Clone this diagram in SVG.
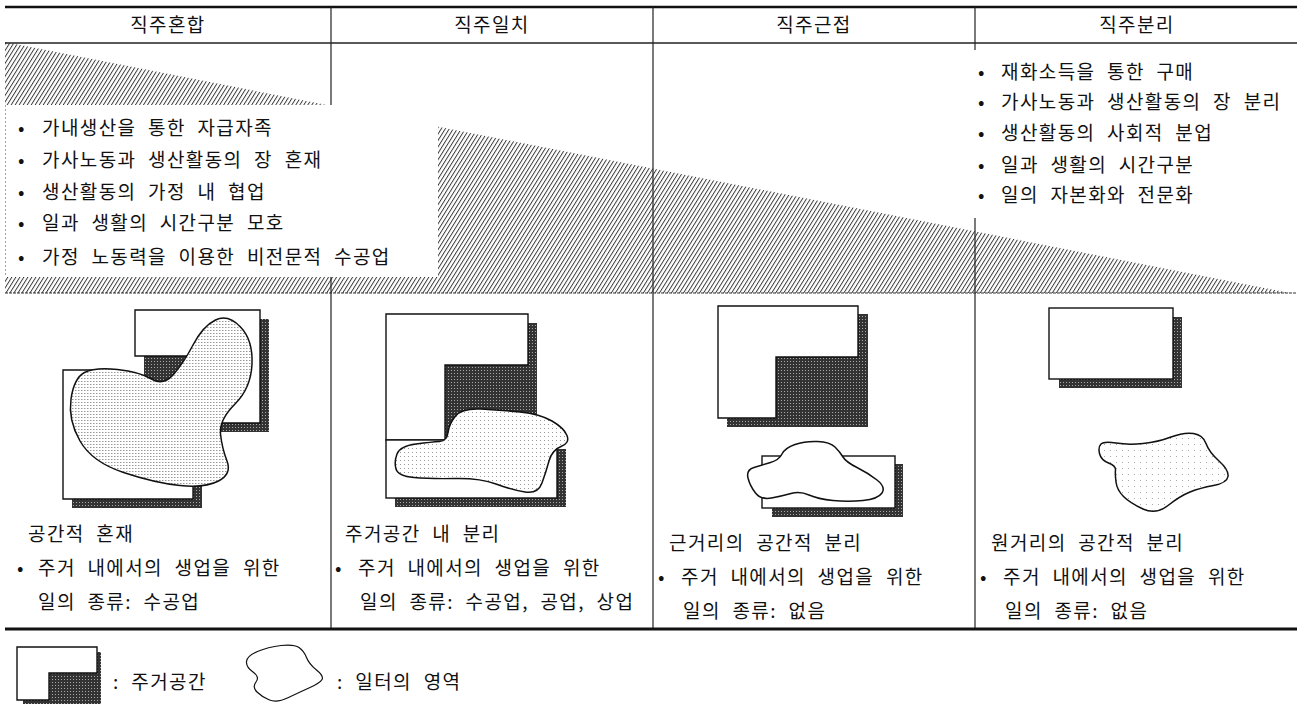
<svg xmlns="http://www.w3.org/2000/svg" width="1300" height="708" viewBox="0 0 1300 708">
<style>
.t{font-family:"Noto Sans CJK KR","Noto Sans",sans-serif;font-size:19px;letter-spacing:1.4px;word-spacing:6px;fill:#111}
.h{text-anchor:middle}
.ln{stroke:#222;stroke-width:1.2;fill:none}
.wb{fill:#fff;stroke:#111;stroke-width:1.4}
.sh{fill:url(#dk)}
.blob{stroke:#111;stroke-width:1.5}
</style>
<defs>
<pattern id="hatch" width="3.4" height="10" patternUnits="userSpaceOnUse" patternTransform="rotate(32)">
<line x1="0.5" y1="0" x2="0.5" y2="10" stroke="#2a2a2a" stroke-width="0.9"/>
</pattern>
<pattern id="dk" width="3" height="3" patternUnits="userSpaceOnUse">
<rect width="3" height="3" fill="#333"/><rect x="1" y="1" width="1" height="1" fill="#a8a8a8"/>
</pattern>
<pattern id="lt1" width="3" height="3" patternUnits="userSpaceOnUse">
<rect width="3" height="3" fill="#fff"/><rect width="1" height="1" fill="#999"/><rect x="1" y="0" width="1" height="1" fill="#ccc"/>
</pattern>
<pattern id="lt2" width="4" height="4" patternUnits="userSpaceOnUse">
<rect width="4" height="4" fill="#fff"/><rect width="1" height="1" fill="#999"/>
</pattern>
<pattern id="lt3" width="6" height="6" patternUnits="userSpaceOnUse">
<rect width="6" height="6" fill="#fff"/><rect width="1" height="1" fill="#aaa"/>
</pattern>
</defs>
<rect width="1300" height="708" fill="#fff"/>

<g id="hatch-band">
<polygon points="5,42 1290,293 5,293" fill="url(#hatch)"/>
<rect x="5" y="105" width="433" height="172" fill="#fff"/>
<rect x="960" y="50" width="337" height="168" fill="#fff"/>
<line x1="5" y1="293" x2="1297" y2="293" stroke="#333" stroke-width="1.2" stroke-dasharray="3 1"/>
<line x1="5.5" y1="105" x2="5.5" y2="277" stroke="#888" stroke-width="0.8" stroke-dasharray="2 2"/>
</g>

<g id="grid">
<line x1="5" y1="7" x2="1297" y2="7" stroke="#111" stroke-width="2.5"/>
<line x1="5" y1="43" x2="1297" y2="43" stroke="#222" stroke-width="1.3"/>
<line class="ln" x1="331" y1="7" x2="331" y2="105"/>
<line class="ln" x1="331" y1="277" x2="331" y2="629"/>
<line class="ln" x1="653" y1="7" x2="653" y2="629"/>
<line class="ln" x1="975" y1="7" x2="975" y2="50"/>
<line class="ln" x1="975" y1="218" x2="975" y2="629"/>
<line x1="5" y1="629" x2="1297" y2="629" stroke="#111" stroke-width="3"/>
</g>

<g id="connectors"></g>

<g id="header">
<text class="t h" x="168" y="32">직주혼합</text>
<text class="t h" x="492" y="32">직주일치</text>
<text class="t h" x="814" y="32">직주근접</text>
<text class="t h" x="1137" y="32">직주분리</text>
</g>

<g id="list-mixed">
<text class="t" x="18" y="135">•</text><text class="t" x="42" y="135">가내생산을 통한 자급자족</text>
<text class="t" x="18" y="167">•</text><text class="t" x="42" y="167">가사노동과 생산활동의 장 혼재</text>
<text class="t" x="18" y="199">•</text><text class="t" x="42" y="199">생산활동의 가정 내 협업</text>
<text class="t" x="18" y="230">•</text><text class="t" x="42" y="230">일과 생활의 시간구분 모호</text>
<text class="t" x="18" y="264">•</text><text class="t" x="42" y="264">가정 노동력을 이용한 비전문적 수공업</text>
</g>

<g id="list-separated">
<text class="t" x="978" y="79">•</text><text class="t" x="1001" y="79">재화소득을 통한 구매</text>
<text class="t" x="978" y="109">•</text><text class="t" x="1001" y="109">가사노동과 생산활동의 장 분리</text>
<text class="t" x="978" y="140">•</text><text class="t" x="1001" y="140">생산활동의 사회적 분업</text>
<text class="t" x="978" y="172">•</text><text class="t" x="1001" y="172">일과 생활의 시간구분</text>
<text class="t" x="978" y="202">•</text><text class="t" x="1001" y="202">일의 자본화와 전문화</text>
</g>

<g id="fig-mixed">
<rect class="sh" x="144" y="319" width="125" height="113"/>
<rect class="sh" x="72" y="379" width="130" height="129"/>
<polygon class="wb" points="135,310 260,310 260,423 190,423 190,356 135,356"/>
<polygon class="wb" points="63,370 115,370 115,440 193,440 193,499 63,499"/>
<path class="blob" fill="url(#lt1)" d="M84.5,372.5 Q95,367 117.5,369.5 Q140,372 151.5,379 Q163,386 173,375 Q183,364 193,345 Q203,326 215.5,320 Q228,314 240.5,327 Q253,340 252,364 Q251,388 235,404 Q219,420 220.5,434 Q222,448 227,461 Q232,474 218.5,481 Q205,488 180,485.5 Q155,483 123.5,472.5 Q92,462 80,441 Q68,420 71,399 Q74,378 84.5,372.5 Z"/>
<text class="t" x="28" y="541">공간적 혼재</text>
<text class="t" x="17" y="575">•</text><text class="t" x="38" y="575">주거 내에서의 생업을 위한</text>
<text class="t" x="38" y="609">일의 종류: 수공업</text>
</g>

<g id="fig-match">
<polygon class="sh" points="395,323 537,323 537,449 566,449 566,507 395,507"/>
<polygon class="wb" points="386,314 528,314 528,365 445,365 445,440 386,440"/>
<rect class="wb" x="386" y="440" width="171" height="58"/>
<path class="blob" fill="url(#lt2)" d="M396,469 Q394,462 397,454 Q400,446 416,444 Q432,442 439.5,441.5 Q447,441 448,432.5 Q449,424 455.5,416 Q462,408 481,409 Q500,410 520,412 Q540,414 552,421 Q564,428 567,435.5 Q570,443 561,446.5 Q552,450 549,461 Q546,472 542,483 Q538,494 525,492 Q512,490 496,484 Q480,478 455,478.5 Q430,479 414,477.5 Q398,476 396,469 Z"/>
<text class="t" x="345" y="541">주거공간 내 분리</text>
<text class="t" x="335" y="575">•</text><text class="t" x="358" y="575">주거 내에서의 생업을 위한</text>
<text class="t" x="360" y="609">일의 종류: 수공업, 공업, 상업</text>
</g>

<g id="fig-near">
<rect class="sh" x="727" y="314" width="141" height="113"/>
<polygon class="wb" points="718,306 858,306 858,357 776,357 776,418 718,418"/>
<rect class="sh" x="772" y="464" width="131" height="53"/>
<rect class="wb" x="762" y="456" width="133" height="52"/>
<path class="blob" fill="#fff" d="M748,478 Q746,470 754,467.5 Q762,465 770.5,462.5 Q779,460 782,454 Q785,448 795,444.5 Q805,441 817.5,441.5 Q830,442 835,447 Q840,452 843,457 Q846,462 857,467.5 Q868,473 877,480 Q886,487 882,493 Q878,499 863,500.5 Q848,502 833,500.5 Q818,499 809,495 Q800,491 791,493.5 Q782,496 771.5,498 Q761,500 755.5,493 Q750,486 748,478 Z"/>
<text class="t" x="669" y="550">근거리의 공간적 분리</text>
<text class="t" x="658" y="584">•</text><text class="t" x="681" y="584">주거 내에서의 생업을 위한</text>
<text class="t" x="683" y="618">일의 종류: 없음</text>
</g>

<g id="fig-separate">
<rect class="sh" x="1059" y="317" width="123" height="71"/>
<rect class="wb" x="1049" y="308" width="124" height="71"/>
<path class="blob" fill="url(#lt3)" d="M1099.5,453.5 Q1098,447 1101,444 Q1104,441 1116,443 Q1128,445 1143,443.5 Q1158,442 1171,437 Q1184,432 1193.5,433.5 Q1203,435 1206,443.5 Q1209,452 1219,461 Q1229,470 1228,476.5 Q1227,483 1213.5,485.5 Q1200,488 1190,492 Q1180,496 1168,505.5 Q1156,515 1143,509 Q1130,503 1123.5,496.5 Q1117,490 1116,482 Q1115,474 1115.5,470 Q1116,466 1108.5,463 Q1101,460 1099.5,453.5 Z"/>
<text class="t" x="991" y="550">원거리의 공간적 분리</text>
<text class="t" x="980" y="584">•</text><text class="t" x="1003" y="584">주거 내에서의 생업을 위한</text>
<text class="t" x="1005" y="618">일의 종류: 없음</text>
</g>

<g id="legend">
<rect class="sh" x="23" y="652" width="78" height="52"/>
<polygon class="wb" points="17,647 97,647 97,673 49,673 49,700 17,700"/>
<text class="t" x="113" y="689">: 주거공간</text>
<path fill="#fff" stroke="#111" stroke-width="1.2" d="M246.5,661.5 Q247,656 257.5,651.5 Q268,647 281,645.5 Q294,644 299,647.5 Q304,651 306.5,657.5 Q309,664 316.5,670 Q324,676 322,679.5 Q320,683 310,687.5 Q300,692 288.5,697.5 Q277,703 269.5,700 Q262,697 257,692 Q252,687 256,682 Q260,677 253,672 Q246,667 246.5,661.5 Z"/>
<text class="t" x="337" y="689">: 일터의 영역</text>
</g>
</svg>
